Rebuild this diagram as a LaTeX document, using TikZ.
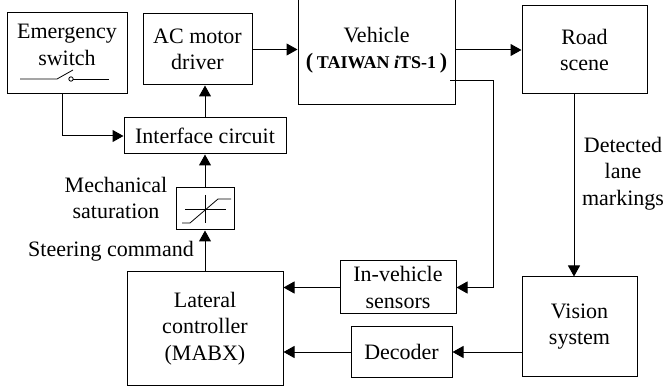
\documentclass[tikz,border=0pt]{standalone}
\usepackage{fontspec}
\setmainfont{Liberation Serif}
\usetikzlibrary{arrows.meta}

\begin{document}
\begin{tikzpicture}[x=1pt, y=-1pt, line width=1pt, every node/.style = {align=center, font=\fontsize{22}{26.5}\selectfont},
    block/.style = {draw, inner sep=0pt},
    flow/.style = {-{Triangle[length=11pt, width=12pt]}},
    thin part/.style = {line width=0.8pt}]
  \clip (0,0) rectangle (664,387);
  \node [block, minimum width=119.5pt, minimum height=81.5pt] (emergency) at (67.25,53.25) {};
  \node (emergencytext) at (67,45) {Emergency\\switch};
  \node [block, minimum width=109pt, minimum height=71pt] (driver) at (197.5,49.5) {AC motor\\driver};
  \node [block, minimum width=157pt, minimum height=110pt] (vehicle) at (376.5,50)
    {Vehicle\\\textbf{(\,{\fontsize{18}{26.5}\selectfont TAIWAN \textit{i}TS-1}\,)}};
  \node [block, minimum width=125pt, minimum height=88pt] (road) at (584.5,50) {Road\\scene};
  \node [block, minimum width=162pt, minimum height=36pt] (interface) at (205,136) {Interface circuit};
  \node [block, minimum width=57.5pt, minimum height=42pt] (saturation) at (205.25,209) {};
  \node [block, minimum width=156pt, minimum height=113pt] (controller) at (205,328.5) {Lateral\\controller\\(MABX)};
  \node [block, minimum width=116pt, minimum height=53pt] (sensors) at (398,287.5) {In-vehicle\\sensors};
  \node [block, minimum width=101pt, minimum height=50pt] (decoder) at (401.5,352) {Decoder};
  \node [block, minimum width=115pt, minimum height=99pt] (vision) at (579.5,326.5) {Vision\\system};
  \node (mechlabel) at (116,198) {Mechanical\\saturation};
  \node (steerlabel) at (111,251) {Steering command};
  \node (lanelabel) at (623,173.5) {Detected\\lane\\markings};
  \coordinate (sensorout) at (450,81);
  \draw [flow] (emergency.south -| 62,0) |- (interface.west);
  \draw [flow] (interface.north) -- (interface.north |- driver.south);
  \draw [flow] (driver.east) -- (vehicle.west |- driver.east);
  \draw [flow] (vehicle.east) -- (road.west);
  \draw [flow] (sensorout) -| (493,287.5) -- (sensors.east);
  \draw [flow] (road.south -| 574,0) -- (vision.north -| 574,0);
  \draw [flow] (vision.west |- decoder.east) -- (decoder.east);
  \draw [flow] (decoder.west) -- (controller.east |- decoder.west);
  \draw [flow] (sensors.west) -- (controller.east |- sensors.west);
  \draw [flow] (controller.north) -- (saturation.south -| controller.north);
  \draw [flow] (saturation.north -| interface.south) -- (interface.south);
  % switch
  \draw [thin part] (20,79) -- (57,79) -- (73,70);
  \draw [thin part] (73,79) -- (109,79);
  \draw [thin part] (71,79) circle (2.2);
  % saturation curve
  \draw [thin part] (205,195) -- (205,223);
  \draw [thin part] (185,209.5) -- (226,209.5);
  \draw [thin part] (182,223) -- (190,223) -- (218,199) -- (231,199);
\end{tikzpicture}
\end{document}
